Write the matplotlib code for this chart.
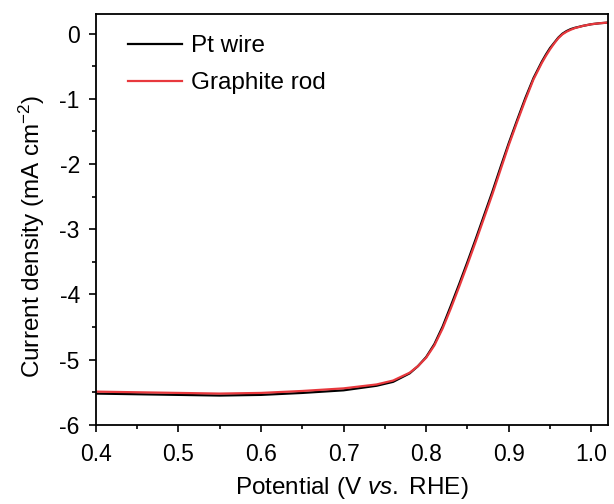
import matplotlib
matplotlib.use("Agg")
import matplotlib.pyplot as plt
from matplotlib.ticker import MultipleLocator

plt.rcParams['font.family'] = 'Liberation Sans'
plt.rcParams['mathtext.fontset'] = 'custom'
plt.rcParams['mathtext.rm'] = 'Liberation Sans'
plt.rcParams['mathtext.it'] = 'Liberation Sans:italic'
plt.rcParams['axes.unicode_minus'] = False

# potential (V vs. RHE)
potential = [0.40, 0.45, 0.50, 0.55, 0.60, 0.65, 0.70, 0.74, 0.76, 0.78, 0.79,
             0.80, 0.81, 0.82, 0.83, 0.84, 0.85, 0.86, 0.87, 0.88, 0.89, 0.90,
             0.91, 0.92, 0.93, 0.94, 0.945, 0.95, 0.955, 0.96, 0.965, 0.97, 0.975,
             0.98, 0.99, 1.00, 1.01, 1.02]

# current density (mA cm-2)
pt_wire = [-5.52, -5.53, -5.54, -5.55, -5.54, -5.51, -5.47, -5.40, -5.34, -5.21, -5.10,
           -4.96, -4.76, -4.49, -4.17, -3.84, -3.50, -3.15, -2.79, -2.43, -2.05, -1.68,
           -1.33, -0.99, -0.68, -0.43, -0.32, -0.22, -0.14, -0.06, 0.00, 0.04, 0.07,
           0.09, 0.12, 0.145, 0.16, 0.17]
graphite_rod = [-5.49, -5.50, -5.51, -5.52, -5.51, -5.48, -5.44, -5.38, -5.32, -5.20, -5.10,
                -4.97, -4.78, -4.52, -4.21, -3.88, -3.54, -3.19, -2.83, -2.47, -2.09, -1.71,
                -1.36, -1.02, -0.70, -0.45, -0.34, -0.24, -0.15, -0.07, -0.01, 0.03, 0.06,
                0.085, 0.12, 0.145, 0.16, 0.17]

fig = plt.figure(figsize=(6.14, 5.04), dpi=100)
ax = fig.add_axes([0.156, 0.157, 0.834, 0.815])

ax.plot(potential, pt_wire, color='black', lw=1.6, label='Pt wire')
ax.plot(potential, graphite_rod, color='#e8383d', lw=1.6, label='Graphite rod')

ax.set_xlim(0.4, 1.02)
ax.set_ylim(-6, 0.3)
ax.xaxis.set_major_locator(MultipleLocator(0.1))
ax.xaxis.set_minor_locator(MultipleLocator(0.05))
ax.yaxis.set_major_locator(MultipleLocator(1))
ax.yaxis.set_minor_locator(MultipleLocator(0.5))
ax.xaxis.set_major_formatter(matplotlib.ticker.FormatStrFormatter('%.1f'))
ax.tick_params(which='major', direction='out', length=5, width=1.2, labelsize=16.5)
ax.tick_params(which='minor', direction='out', length=3, width=1.2)
ax.tick_params(axis='x', which='major', pad=8)
ax.tick_params(axis='y', which='major', pad=6.5)
for s in ax.spines.values():
    s.set_linewidth(1.3)

ax.set_xlabel(r'Potential (V $\mathit{vs.}$ RHE)', fontsize=17.5, labelpad=6.5)
ax.set_ylabel(r'Current density (mA cm$^{-2}$)', fontsize=17.5, labelpad=9)
ax.yaxis.label.set_y(0.46)

ax.legend(loc='upper left', frameon=False, fontsize=17.5, handlelength=2.25,
          handletextpad=0.37, labelspacing=0.62, borderaxespad=0,
          bbox_to_anchor=(0.043, 0.972))

fig.savefig('out.png', dpi=100)
